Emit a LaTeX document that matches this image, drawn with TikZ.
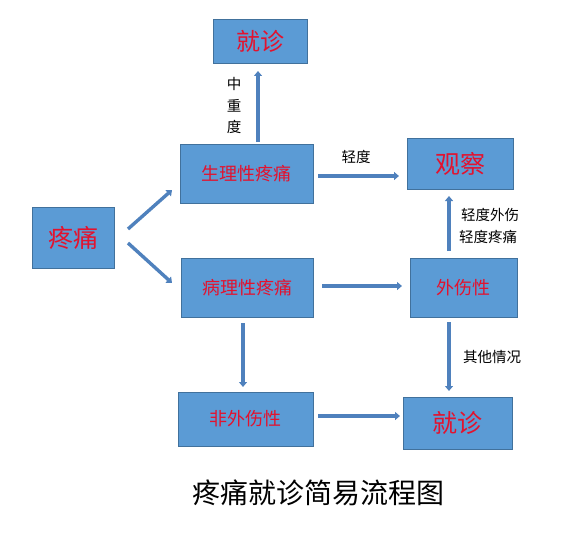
\documentclass[tikz,border=0pt]{standalone}
\usepackage{fontspec}
\setmainfont{Noto Sans CJK SC}
\newfontfamily\cjk{Noto Sans CJK SC}
\usetikzlibrary{arrows.meta}
\definecolor{boxfill}{HTML}{5B9BD5}
\definecolor{boxline}{HTML}{41719C}
\definecolor{boxtext}{HTML}{E3122E}
\definecolor{arrowc}{HTML}{4F81BD}
\tikzset{
  box/.style={draw=boxline, line width=0.8pt, fill=boxfill, text=boxtext, inner sep=0pt, font=\cjk},
  flow/.style={draw=arrowc, line width=3.4pt, -{Triangle[length=5pt,width=8pt]}},
  lbl/.style={font=\cjk\fontsize{14.5}{22}\selectfont, text=black, inner sep=0pt},
}
\begin{document}
\begin{tikzpicture}[x=1pt,y=-1pt]
\useasboundingbox (0,0) rectangle (565,535);
% boxes
\node[box, minimum width=94pt, minimum height=44pt, font=\cjk\fontsize{24}{26}\selectfont] (jz1) at (260,41) {就诊};
\node[box, minimum width=133pt, minimum height=59pt, font=\cjk\fontsize{18}{20}\selectfont] (sl) at (246.5,173.5) {生理性疼痛};
\node[box, minimum width=106pt, minimum height=51pt, font=\cjk\fontsize{25}{27}\selectfont] (gc) at (460,163.5) {观察};
\node[box, minimum width=82pt, minimum height=61pt, font=\cjk\fontsize{25}{27}\selectfont] (tt) at (73,237.5) {疼痛};
\node[box, minimum width=132pt, minimum height=59pt, font=\cjk\fontsize{18}{20}\selectfont] (bl) at (247,287.5) {病理性疼痛};
\node[box, minimum width=107pt, minimum height=59pt, font=\cjk\fontsize{18}{20}\selectfont] (ws) at (463.5,287.5) {外伤性};
\node[box, minimum width=135pt, minimum height=54pt, font=\cjk\fontsize{18}{20}\selectfont] (fw) at (245.5,419) {非外伤性};
\node[box, minimum width=109pt, minimum height=52pt, font=\cjk\fontsize{25}{27}\selectfont] (jz2) at (457.5,423) {就诊};
% title
\node[font=\cjk\fontsize{28}{30}\selectfont, inner sep=0pt] (title) at (318,493) {疼痛就诊简易流程图};
% arrow end points
\coordinate (a1s) at (128,229); \coordinate (a1e) at (172,190);
\coordinate (a2s) at (128,243); \coordinate (a2e) at (172,283);
\coordinate (a3s) at (258,142); \coordinate (a3e) at (258,71);
\coordinate (a4s) at (318,176); \coordinate (a4e) at (399,176);
\coordinate (a5s) at (322,286); \coordinate (a5e) at (402,286);
\coordinate (a6s) at (449,251); \coordinate (a6e) at (449,196);
\coordinate (a7s) at (449,322); \coordinate (a7e) at (449,391);
\coordinate (a8s) at (243,323); \coordinate (a8e) at (243,387);
\coordinate (a9s) at (318,416); \coordinate (a9e) at (400,416);
\draw[flow] (a1s) -- (a1e);
\draw[flow] (a2s) -- (a2e);
\draw[flow] (a3s) -- (a3e);
\draw[flow] (a4s) -- (a4e);
\draw[flow] (a5s) -- (a5e);
\draw[flow] (a6s) -- (a6e);
\draw[flow] (a7s) -- (a7e);
\draw[flow] (a8s) -- (a8e);
\draw[flow] (a9s) -- (a9e);
% labels
\node[lbl] (l1) at (234,84) {中};
\node[lbl] (l2) at (234,106) {重};
\node[lbl] (l3) at (234,127) {度};
\node[lbl] (l4) at (356,157) {轻度};
\node[lbl] (l5) at (490,215) {轻度外伤};
\node[lbl] (l5b) at (488,237) {轻度疼痛};
\node[lbl] (l6) at (492,357) {其他情况};
\end{tikzpicture}
\end{document}
